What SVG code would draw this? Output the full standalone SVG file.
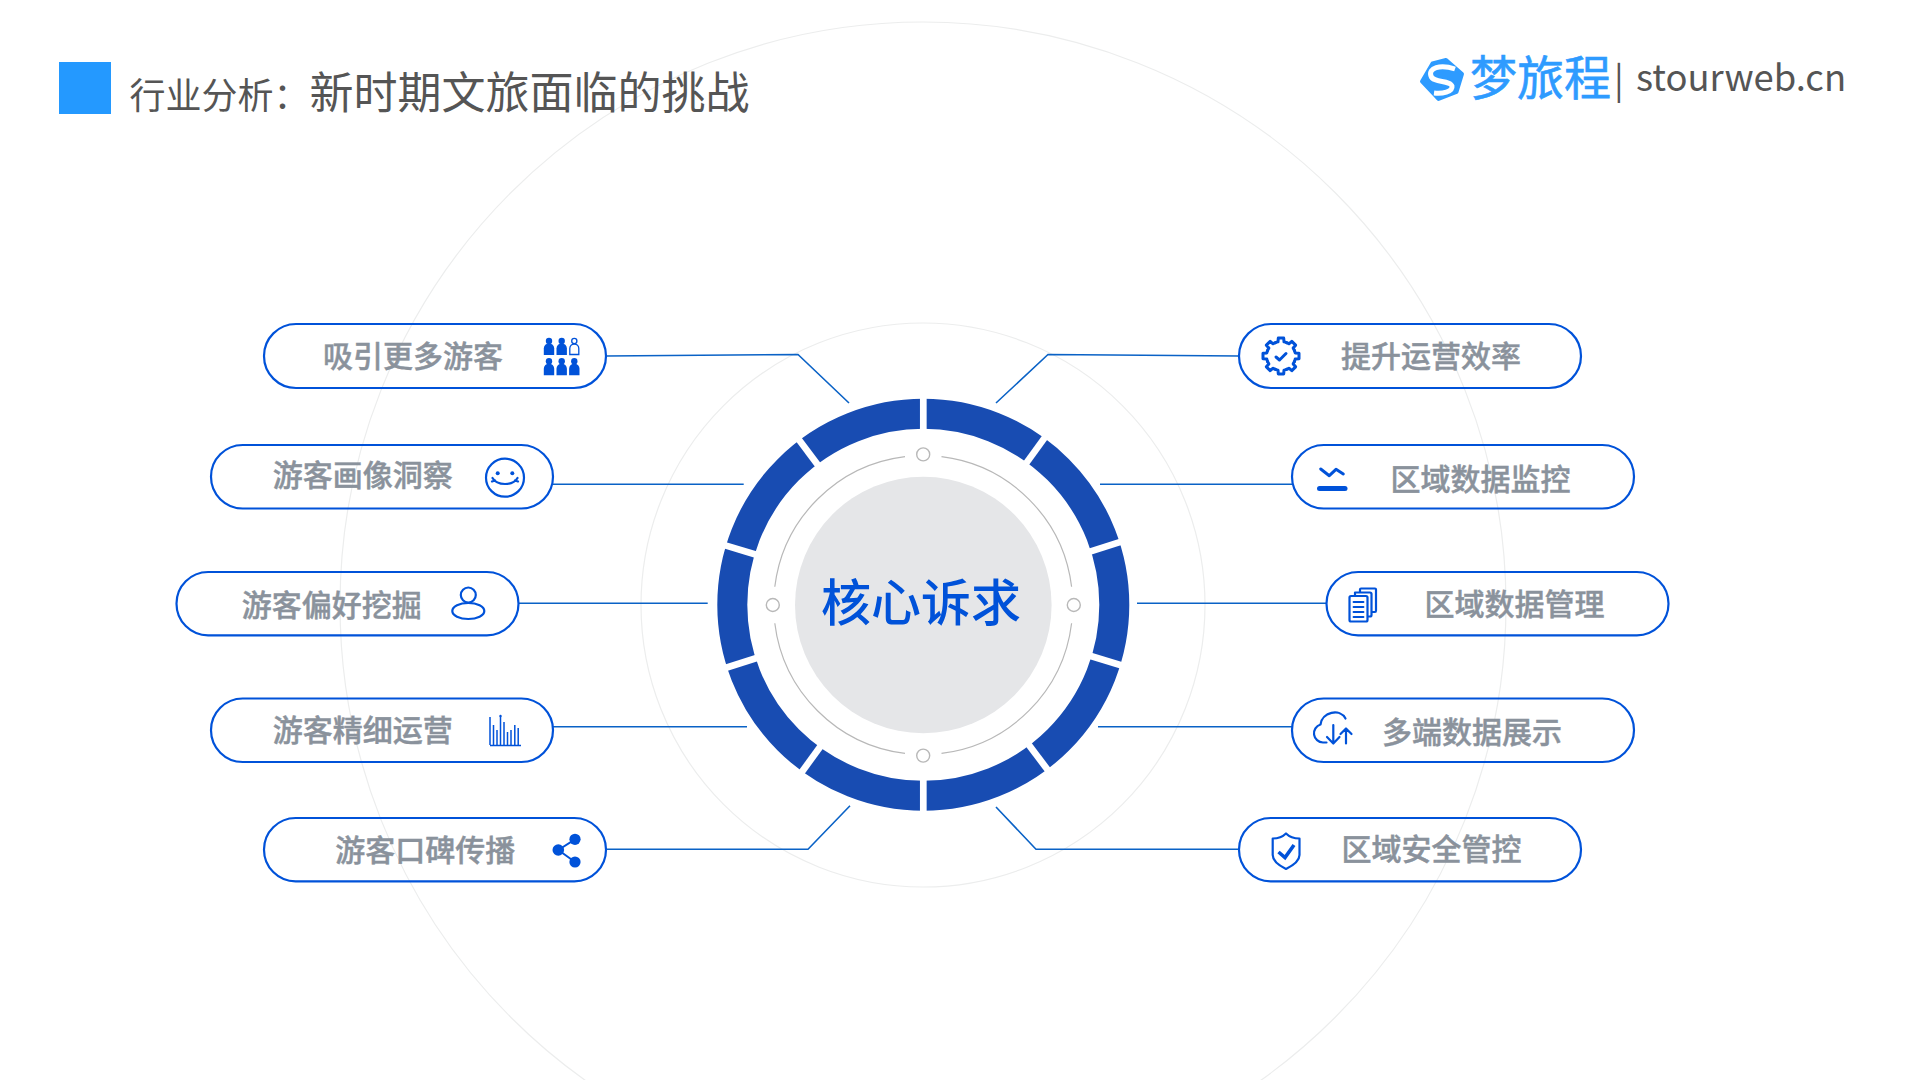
<svg xmlns="http://www.w3.org/2000/svg" xmlns:xlink="http://www.w3.org/1999/xlink" width="1920" height="1080" viewBox="0 0 1920 1080">
<style>
text{font-family:"Noto Sans CJK SC","Noto Sans",sans-serif}
.halo{fill:none;stroke:#eceded;stroke-width:1.2}
.pill{fill:none;stroke:#0052d9;stroke-width:2.2}
.lbl{font-size:30px;font-weight:500;fill:#8a929c;stroke:#8a929c;stroke-width:.45;text-anchor:middle}
.con{fill:none;stroke:#0a62c6;stroke-width:1.6}
.gap{stroke:#fff;stroke-width:6.7}
.thin{fill:none;stroke:#b8b8b8;stroke-width:1.2}
.dot{fill:#fff;stroke:#b8b8b8;stroke-width:1.4}
.ico{fill:none;stroke:#0052d9;stroke-width:2.2;stroke-linecap:round;stroke-linejoin:round}
.fil{fill:#0052d9}
</style>
<defs>
<g id="body"><path d="M-5.2 0v-6.5a5.2 5.2 0 0 1 10.4 0V0z"/></g>
<path id="tooth" d="M-5.55-13.4A14.5 14.5 0 0 1-3-14.2L-2.7-18H2.7L3-14.2A14.5 14.5 0 0 1 5.55-13.4"/>
</defs>
<rect width="1920" height="1080" fill="#fff"/>
<g id="halos">
<circle class="halo" cx="923" cy="605" r="583"/>
<circle class="halo" cx="923" cy="605" r="282"/>
</g>
<g id="header">
<rect x="59" y="62" width="52" height="52" fill="#2499ff"/>
<text x="129.500" y="109" font-size="36" fill="#555">行业分析：<tspan font-size="44">新时期文旅面临的挑战</tspan></text>
</g>
<g id="logo">
<path d="M1432.5 63.5L1446 60L1462 74L1456.5 92L1438.5 99L1422 81.5Z" fill="#2e9bff" stroke="#2e9bff" stroke-width="4" stroke-linejoin="round"/>
<path d="M1455 69C1440 64 1428 68 1431 76C1433 83 1450 80 1452 86C1453 92 1442 94 1434 93" fill="none" stroke="#fff" stroke-width="5"/>
<text x="1470" y="95" font-size="47" fill="#2e9bff" stroke="#2e9bff" stroke-width=".6">梦旅程</text>
<text x="1614" y="93" font-size="36" fill="#555" font-family="Noto Sans">|</text>
<text x="1636" y="91" font-size="36.400" fill="#555" font-family="Noto Sans">stourweb.cn</text>
</g>
<g id="connectors">
<path class="con" d="M606 356L798 354.5L849 403"/>
<path class="con" d="M553 484.3H743.7"/>
<path class="con" d="M518 603.3H707.7"/>
<path class="con" d="M553 726.7H747"/>
<path class="con" d="M606 849.3H808L850 805.7"/>
<path class="con" d="M1239 356L1048 354.5L996 403"/>
<path class="con" d="M1292 484.3H1100"/>
<path class="con" d="M1326 603.3H1137"/>
<path class="con" d="M1292 726.7H1098"/>
<path class="con" d="M1239 849.3H1036L996 807"/>
</g>
<g id="hub">
<circle cx="923.3" cy="604.8" r="191" fill="none" stroke="#184cb2" stroke-width="30"/>
<g id="ring-gaps">
<line class="gap" x1="923.3" y1="392" x2="923.3" y2="434"/>
<line class="gap" x1="923.3" y1="392" x2="923.3" y2="434" transform="rotate(36 923.3 604.8)"/>
<line class="gap" x1="923.3" y1="392" x2="923.3" y2="434" transform="rotate(72.3 923.3 604.8)"/>
<line class="gap" x1="923.3" y1="392" x2="923.3" y2="434" transform="rotate(107 923.3 604.8)"/>
<line class="gap" x1="923.3" y1="392" x2="923.3" y2="434" transform="rotate(143 923.3 604.8)"/>
<line class="gap" x1="923.3" y1="392" x2="923.3" y2="434" transform="rotate(180 923.3 604.8)"/>
<line class="gap" x1="923.3" y1="392" x2="923.3" y2="434" transform="rotate(216 923.3 604.8)"/>
<line class="gap" x1="923.3" y1="392" x2="923.3" y2="434" transform="rotate(252.3 923.3 604.8)"/>
<line class="gap" x1="923.3" y1="392" x2="923.3" y2="434" transform="rotate(286.7 923.3 604.8)"/>
<line class="gap" x1="923.3" y1="392" x2="923.3" y2="434" transform="rotate(323 923.3 604.8)"/>
</g>
<path class="thin" d="M941.5 456.6A149.5 149.5 0 0 1 1071.6 586.8M1071.6 623.2A149.5 149.5 0 0 1 941.5 753.4M905 753.4A149.5 149.5 0 0 1 774.8 623.2M774.8 586.8A149.5 149.5 0 0 1 905 456.6"/>
<circle class="dot" cx="923.2" cy="454.4" r="6.5"/>
<circle class="dot" cx="923.2" cy="755.6" r="6.5"/>
<circle class="dot" cx="772.8" cy="605" r="6.5"/>
<circle class="dot" cx="1073.8" cy="605" r="6.5"/>
<circle cx="923.3" cy="605" r="128.3" fill="#e5e6e8"/>
<text x="921" y="621" font-size="50" font-weight="500" fill="#0052d9" text-anchor="middle">核心诉求</text>
</g>
<g id="n-left-1">
<rect class="pill" x="264" y="324" width="342" height="64" rx="32"/>
<text class="lbl" x="413" y="367">吸引更多游客</text>
<g class="fil">
<circle cx="549" cy="341" r="3.2"/><circle cx="561.7" cy="341" r="3.2"/>
<use xlink:href="#body" href="#body" x="549" y="355"/><use xlink:href="#body" href="#body" x="561.7" y="355"/>
<circle cx="549" cy="361.3" r="3.2"/><circle cx="561.7" cy="361.3" r="3.2"/><circle cx="574.3" cy="361.3" r="3.2"/>
<use xlink:href="#body" href="#body" x="549" y="375.3"/><use xlink:href="#body" href="#body" x="561.7" y="375.3"/><use xlink:href="#body" href="#body" x="574.3" y="375.3"/>
</g>
<circle cx="574.3" cy="341" r="2.6" fill="none" stroke="#0052d9" stroke-width="1.3"/>
<path d="M569.8 354.5v-6a4.5 4.5 0 0 1 9 0v6z" fill="none" stroke="#0052d9" stroke-width="1.3"/>
</g>
<g id="n-left-2">
<rect class="pill" x="211" y="445" width="342" height="63.5" rx="31.7"/>
<text class="lbl" x="362.800" y="486">游客画像洞察</text>
<circle class="ico" cx="505" cy="477.7" r="19"/>
<circle class="fil" cx="497.700" cy="473.3" r="2"/><circle class="fil" cx="512.3" cy="473.3" r="2"/>
<path class="ico" d="M492.500 478C497 486 513 486 517.500 478M492 481.5L495 480.500M518 481.5L515 480.500"/>
</g>
<g id="n-left-3">
<rect class="pill" x="176.500" y="572" width="342" height="63.3" rx="31.6"/>
<text class="lbl" x="331.800" y="616">游客偏好挖掘</text>
<circle class="ico" cx="468.3" cy="595" r="7.5"/>
<ellipse class="ico" cx="468.3" cy="611" rx="16" ry="8"/>
</g>
<g id="n-left-4">
<rect class="pill" x="211" y="698.500" width="342" height="63.500" rx="31.7"/>
<text class="lbl" x="362.800" y="741">游客精细运营</text>
<path d="M490 745.500H521M490 717V745M493.500 725V745M497 730V745M500.500 716V745M504 722V745M507.500 732V745M511 730V745M514.800 725V745M518.200 728V745" fill="none" stroke="#0052d9" stroke-width="1.5"/>
<circle class="fil" cx="500.500" cy="716" r="1.2"/>
</g>
<g id="n-left-5">
<rect class="pill" x="264" y="818" width="342" height="63.300" rx="31.600"/>
<text class="lbl" x="425.300" y="861">游客口碑传播</text>
<path d="M558.300 850L575 839.300M558.300 850L575 862" fill="none" stroke="#0052d9" stroke-width="2"/>
<circle class="fil" cx="558.300" cy="850" r="5.800"/><circle class="fil" cx="575" cy="839.300" r="5.600"/><circle class="fil" cx="575" cy="862" r="5.600"/>
</g>
<g id="n-right-1">
<rect class="pill" x="1239" y="324" width="342" height="64" rx="32"/>
<text class="lbl" x="1431" y="367">提升运营效率</text>
<g class="ico" transform="translate(1281 356)" style="stroke-width:3">
<use xlink:href="#tooth" href="#tooth"/>
<use xlink:href="#tooth" href="#tooth" transform="rotate(45)"/>
<use xlink:href="#tooth" href="#tooth" transform="rotate(90)"/>
<use xlink:href="#tooth" href="#tooth" transform="rotate(135)"/>
<use xlink:href="#tooth" href="#tooth" transform="rotate(180)"/>
<use xlink:href="#tooth" href="#tooth" transform="rotate(225)"/>
<use xlink:href="#tooth" href="#tooth" transform="rotate(270)"/>
<use xlink:href="#tooth" href="#tooth" transform="rotate(315)"/>
<path d="M-5 1L-1.500 4L5-2.500"/>
</g>
</g>
<g id="n-right-2">
<rect class="pill" x="1292" y="445" width="342" height="63.500" rx="31.700"/>
<text class="lbl" x="1480.500" y="490">区域数据监控</text>
<path class="ico" style="stroke-width:3" d="M1320.700 469L1329.300 475.700L1336 469.300L1343.300 474"/>
<path class="ico" style="stroke-width:5" d="M1319.500 488.500H1345"/>
</g>
<g id="n-right-3">
<rect class="pill" x="1326.500" y="572" width="342" height="63.300" rx="31.600"/>
<text class="lbl" x="1514.500" y="615">区域数据管理</text>
<path class="ico" d="M1360 592.500V589.500C1360 589 1360.500 588.500 1361 588.500H1375C1375.500 588.500 1376 589 1376 589.500V610.500C1376 611.500 1375.500 612 1375 612H1373M1355 595.500V592.500H1370C1371 592.500 1371.500 593 1371.500 594V615C1371.500 616 1371 616.500 1370 616.500H1367.500"/>
<rect class="ico" x="1349.500" y="596" width="18" height="25.500" rx="1.500" style="fill:#fff"/>
<path class="ico" style="stroke-width:1.800" d="M1353.500 602H1363.500M1353.500 607H1363.500M1353.500 612H1363.500M1353.500 617H1363.500"/>
</g>
<g id="n-right-4">
<rect class="pill" x="1292" y="698.500" width="342" height="63.500" rx="31.700"/>
<text class="lbl" x="1472" y="743">多端数据展示</text>
<path class="ico" d="M1326.500 742.500H1323A9.200 9.200 0 0 1 1320.500 724.500C1322 712 1340 708 1345.500 718.500"/>
<path class="ico" d="M1333.300 725V743M1327 737L1333.300 743.500L1339.500 737M1346 728.500V743.500M1340.500 734L1346 728.500L1351.500 734"/>
</g>
<g id="n-right-5">
<rect class="pill" x="1239" y="818" width="342" height="63.300" rx="31.600"/>
<text class="lbl" x="1431.500" y="860">区域安全管控</text>
<path class="ico" d="M1272.700 838.500C1278 838.500 1283 836.500 1286 833.500C1289 836.500 1294 838.500 1299.500 838.500V855C1299.500 861 1292 866 1286 869C1280 866 1272.700 861 1272.700 855Z"/>
<path class="ico" style="stroke-width:3.600;stroke-linejoin:miter;stroke-linecap:butt" d="M1278.500 852L1285 857.500L1294 845"/>
</g>
</svg>
